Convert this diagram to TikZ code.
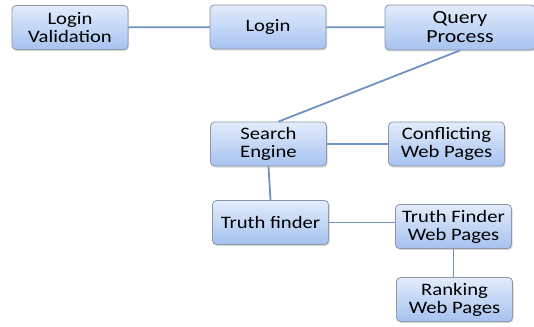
\documentclass[tikz,border=0pt]{standalone}
\usepackage{fontspec}
\setmainfont[FakeStretch=1.18]{Carlito}
\usepackage{tikz}
\usetikzlibrary{shadows}

\definecolor{boxtop}{HTML}{E2ECFB}
\definecolor{boxbot}{HTML}{A6C2F0}
\definecolor{boxline}{HTML}{8C97A8}
\definecolor{link}{HTML}{6E92C4}

\begin{document}
\begin{tikzpicture}[
        x=1pt, y=-1pt,
        font=\fontsize{17.5}{18}\selectfont
    ]
    \tikzstyle{blk}=[draw=boxline,line width=0.8pt,rounded corners=4pt,
        top color=boxtop,bottom color=boxbot,align=center,
        minimum width=116pt,minimum height=44pt,inner sep=1pt,
        drop shadow={shadow xshift=1pt,shadow yshift=-1.5pt,opacity=0.3}];
    \tikzstyle{wire}=[draw=link,line width=1.8pt];
    \useasboundingbox (0,0) rectangle (534,326);
    % top row
    \node[blk] (val) at (70,27.5) {Login\\Validation};
    \node[blk] (login) at (268,27) {Login};
    \node[blk,minimum width=150pt,minimum height=45pt,
        font=\fontsize{18.5}{19}\selectfont] (query) at (460,27.5) {Query\\Process};
    % search
    \node[blk] (search) at (268.5,144) {Search\\Engine};
    \node[blk] (conflict) at (446.5,144) {Conflicting\\Web Pages};
    % truth finder
    \node[blk] (truth) at (270.5,222.5) {Truth finder};
    \node[blk] (tfpages) at (453.5,226.5) {Truth Finder\\Web Pages};
    \node[blk] (rank) at (454.5,299.5) {Ranking\\Web Pages};
    % links
    \draw[wire] (val) -- (login);
    \draw[wire] (login) -- (query);
    \draw[wire] (query.south) -- ([xshift=10pt]search.north);
    \draw[wire] (search) -- (conflict);
    \draw[wire] (search.south) -- (truth.north);
    \draw[wire] (truth) -- (truth -| tfpages.west);
    \draw[wire] (tfpages.south) -- (tfpages.south |- rank.north);
\end{tikzpicture}
\end{document}
